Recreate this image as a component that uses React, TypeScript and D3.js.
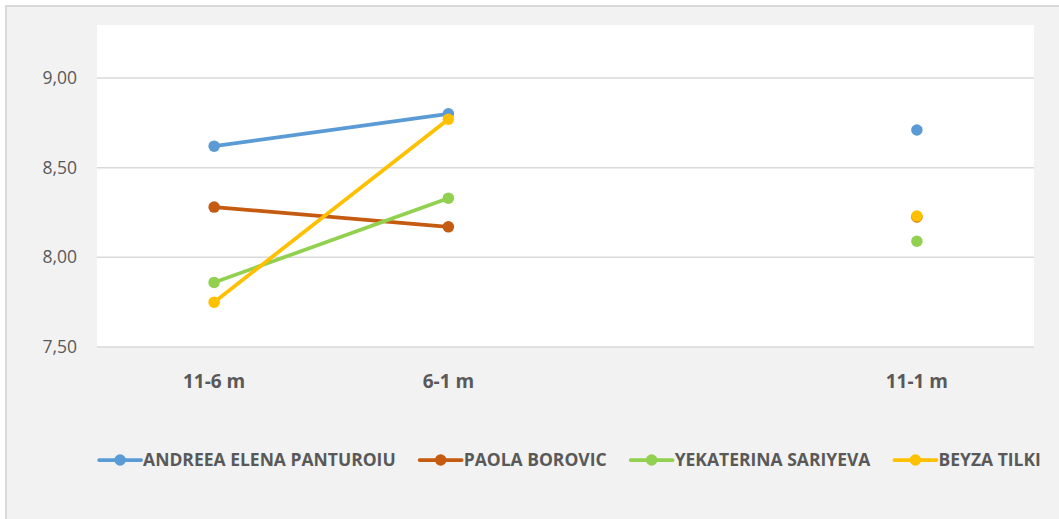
import React, { useEffect, useRef } from "react";
import * as d3 from "d3";

const categories = ["11-6 m", "6-1 m", "", "11-1 m"];
const seriesNames = ["ANDREEA ELENA PANTUROIU", "PAOLA BOROVIC", "YEKATERINA SARIYEVA", "BEYZA TILKI"];
const andreea = [8.62, 8.8, null, 8.71];
const paola = [8.28, 8.17, null, 8.225];
const yekaterina = [7.86, 8.33, null, 8.09];
const beyza = [7.75, 8.77, null, 8.23];
const yTicks = [7.5, 8.0, 8.5, 9.0];
const colors = ["#5B9BD5", "#C55A11", "#92D050", "#FFC000"];

const W = 1059;
const H = 519;

export default function App() {
  const ref = useRef<SVGSVGElement>(null);
  useEffect(() => {
    const svg = d3.select(ref.current);
    svg.selectAll("*").remove();
    const font = "'Open Sans', sans-serif";
    const textColor = "#595959";

    // outer chart area
    svg.append("rect").attr("x", 6).attr("y", 6).attr("width", W + 20).attr("height", H + 20)
      .attr("fill", "#f2f2f2").attr("stroke", "#d9d9d9").attr("stroke-width", 2);

    const left = 97, right = 1034, top = 25, bottom = 347;
    svg.append("rect").attr("x", left).attr("y", top).attr("width", right - left).attr("height", bottom - top)
      .attr("fill", "#ffffff");

    const x = d3.scaleBand<string>().domain(categories.map((c, i) => c + "#" + i)).range([left, right]).padding(0);
    const y = d3.scaleLinear().domain([7.5, 9.0]).range([bottom, 78]);

    const grid = svg.append("g");
    yTicks.forEach((t) => {
      grid.append("line").attr("x1", left).attr("x2", right).attr("y1", y(t)).attr("y2", y(t))
        .attr("stroke", "#d9d9d9").attr("stroke-width", 1.5);
      grid.append("text").attr("x", 77).attr("y", y(t)).attr("dy", "0.35em").attr("text-anchor", "end")
        .attr("font-family", font).attr("font-size", 17.5).attr("fill", textColor)
        .text(d3.format(".2f")(t).replace(".", ","));
    });

    categories.forEach((c, i) => {
      if (!c) return;
      svg.append("text").attr("x", x(c + "#" + i)! + x.bandwidth() / 2).attr("y", 381).attr("dy", "0.35em")
        .attr("text-anchor", "middle").attr("font-family", font).attr("font-weight", "bold")
        .attr("font-size", 19).attr("fill", textColor).text(c);
    });

    const all = [andreea, paola, yekaterina, beyza];
    const cx = (i: number) => x(categories[i] + "#" + i)! + x.bandwidth() / 2;
    const line = d3.line<number | null>()
      .defined((d) => d != null)
      .x((_, i) => cx(i))
      .y((d) => y(d as number));

    all.forEach((vals, s) => {
      const g = svg.append("g");
      g.append("path").attr("d", line(vals)).attr("fill", "none").attr("stroke", colors[s])
        .attr("stroke-width", 3.75).attr("stroke-linecap", "round").attr("stroke-linejoin", "round");
      vals.forEach((v, i) => {
        if (v == null) return;
        g.append("circle").attr("cx", cx(i)).attr("cy", y(v)).attr("r", 5.75).attr("fill", colors[s]);
      });
    });

    // legend
    const lg = svg.append("g");
    const items = seriesNames.map((name, s) => {
      const gi = lg.append("g");
      gi.append("line").attr("x1", 0).attr("x2", 42).attr("y1", 0).attr("y2", 0)
        .attr("stroke", colors[s]).attr("stroke-width", 3.75).attr("stroke-linecap", "round");
      gi.append("circle").attr("cx", 21).attr("cy", 0).attr("r", 5.75).attr("fill", colors[s]);
      const t = gi.append("text").attr("x", 44).attr("y", 0).attr("dy", "0.35em")
        .attr("font-family", font).attr("font-weight", "bold").attr("font-size", 17.5)
        .attr("fill", textColor).text(name);
      const w = 44 + (t.node() as SVGTextElement).getComputedTextLength();
      return { gi, w };
    });
    const gap = 24;
    const total = d3.sum(items, (d) => d.w) + gap * (items.length - 1);
    let pos = 570 - total / 2;
    items.forEach((it) => {
      it.gi.attr("transform", `translate(${pos},460)`);
      pos += it.w + gap;
    });
  }, []);

  return (
    <svg ref={ref} width={W} height={H}
      style={{ position: "absolute", left: 0, top: 0, display: "block" }} />
  );
}
